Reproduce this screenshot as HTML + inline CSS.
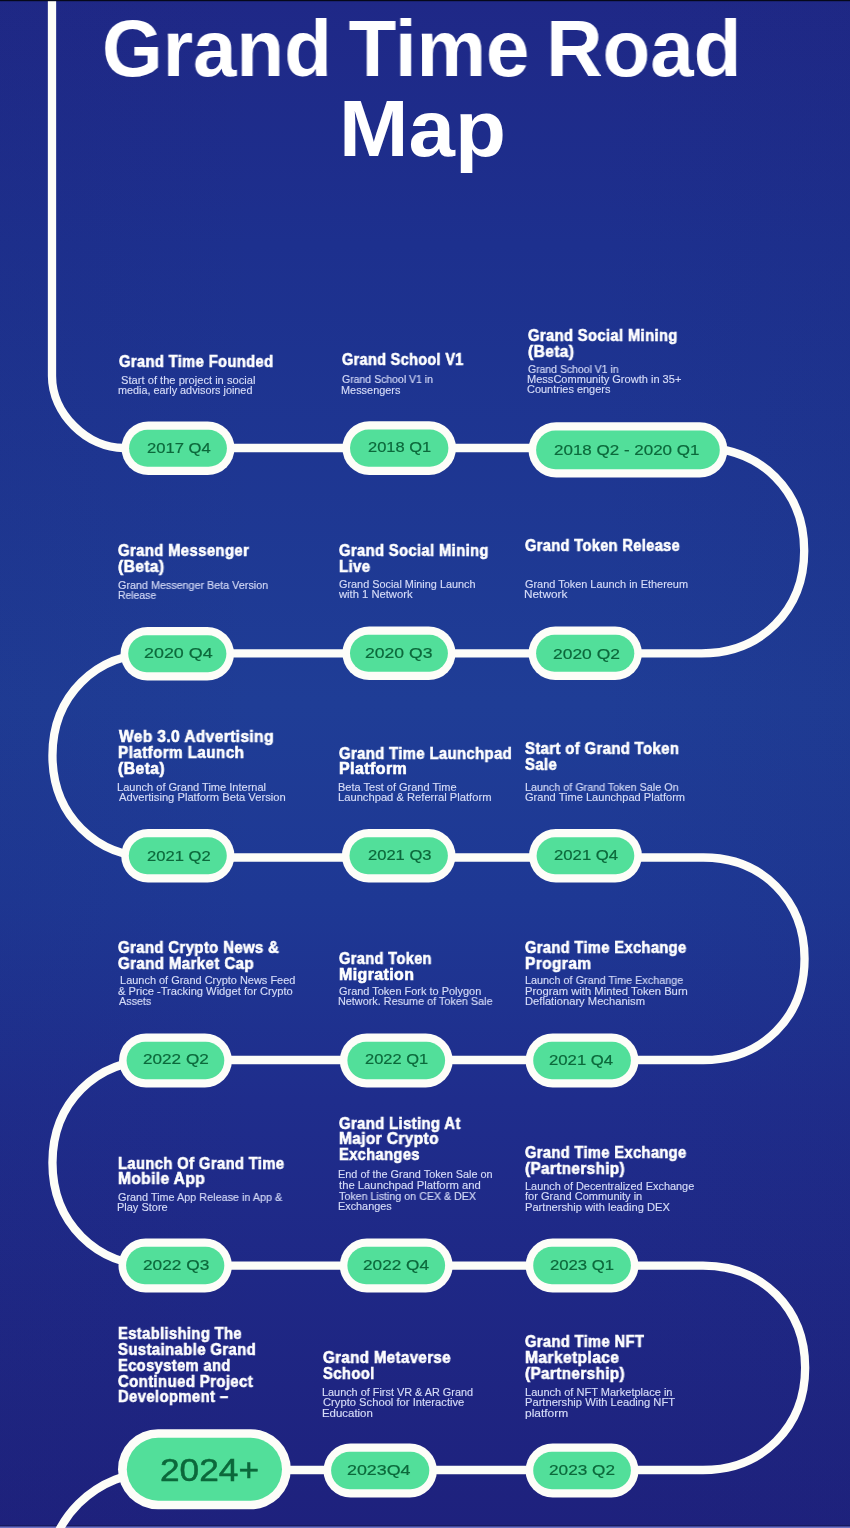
<!DOCTYPE html>
<html><head><meta charset="utf-8">
<style>
html,body{margin:0;padding:0;}
.t,.d,.p,.title{will-change:transform;}
body{width:850px;height:1528px;overflow:hidden;position:relative;font-family:"Liberation Sans",sans-serif;background:#20308f;}
#bg{position:absolute;left:0;top:0;width:850px;height:1528px;}
.t{position:absolute;white-space:pre;transform-origin:0 0;color:#fff;font-weight:bold;-webkit-text-stroke:0.6px #fff;letter-spacing:0.4px;font-size:15.8px;line-height:15.8px;}
.d{position:absolute;white-space:pre;transform-origin:0 0;color:#d6dcf8;-webkit-text-stroke:0.15px #d6dcf8;font-size:10.85px;line-height:10.6px;}
.p{position:absolute;white-space:pre;color:#0c683b;transform-origin:0 0;}
.title{position:absolute;white-space:pre;color:#fff;font-weight:bold;transform-origin:0 0;}
</style></head><body>

<svg id="bg" width="850" height="1528" viewBox="0 0 850 1528">
<defs><linearGradient id="g" x1="0" y1="0" x2="0" y2="1"><stop offset="0" stop-color="rgb(31,40,135)"/><stop offset="0.16" stop-color="rgb(29,48,142)"/><stop offset="0.46" stop-color="rgb(31,61,150)"/><stop offset="0.59" stop-color="rgb(30,56,148)"/><stop offset="0.72" stop-color="rgb(31,45,140)"/><stop offset="1" stop-color="rgb(30,33,125)"/></linearGradient><linearGradient id="re" x1="0" y1="0" x2="1" y2="0"><stop offset="0" stop-color="#1c2470" stop-opacity="0.1"/><stop offset="0.3" stop-color="#1c2470" stop-opacity="0"/><stop offset="0.7" stop-color="#1c2470" stop-opacity="0"/><stop offset="1" stop-color="#1c2470" stop-opacity="0.1"/></linearGradient></defs>
<rect width="850" height="1528" fill="url(#g)"/><rect width="850" height="1528" fill="url(#re)"/>
<rect y="1525" width="850" height="1.5" fill="#161a60"/><rect y="1526.5" width="850" height="1.5" fill="#6e73c3"/>
<path d="M52 -5 L52 376 C52.00 413.44 86.56 448.00 124.00 448.00 L701.50 448.00 C761.07 448.00 804.20 491.13 804.20 550.70 C804.20 610.27 761.07 653.40 701.50 653.40 L154.50 653.40 C95.31 653.40 52.45 696.26 52.45 755.45 C52.45 814.64 95.31 857.50 154.50 857.50 L703.30 857.50 C762.02 857.50 804.55 900.02 804.55 958.75 C804.55 1017.48 762.02 1060.00 703.30 1060.00 L155.30 1060.00 C95.65 1060.00 52.45 1103.20 52.45 1162.85 C52.45 1222.50 95.65 1265.70 155.30 1265.70 L703.00 1265.70 C762.25 1265.70 805.15 1308.60 805.15 1367.85 C805.15 1427.10 762.25 1470.00 703.00 1470.00 L200 1470 M155 1472 A108 108 0 0 0 47 1580" fill="none" stroke="#fdfdf8" stroke-width="8.3"/>
<rect x="121.5" y="421.5" width="113.0" height="53.5" rx="26.8" fill="#fdfdf8"/>
<rect x="129.1" y="429.8" width="97.8" height="36.9" rx="18.4" fill="#52df9a"/>
<rect x="342.4" y="421.2" width="113.6" height="53.8" rx="26.9" fill="#fdfdf8"/>
<rect x="350.0" y="429.5" width="98.4" height="37.2" rx="18.6" fill="#52df9a"/>
<rect x="528.5" y="422.2" width="198.9" height="55.4" rx="27.7" fill="#fdfdf8"/>
<rect x="536.1" y="430.5" width="183.7" height="38.8" rx="19.4" fill="#52df9a"/>
<rect x="120.6" y="627.0" width="113.4" height="53.5" rx="26.8" fill="#fdfdf8"/>
<rect x="128.2" y="635.3" width="98.2" height="36.9" rx="18.4" fill="#52df9a"/>
<rect x="342.4" y="626.5" width="113.1" height="53.5" rx="26.8" fill="#fdfdf8"/>
<rect x="350.0" y="634.8" width="97.9" height="36.9" rx="18.4" fill="#52df9a"/>
<rect x="528.5" y="626.5" width="113.4" height="53.5" rx="26.8" fill="#fdfdf8"/>
<rect x="536.1" y="634.8" width="98.2" height="36.9" rx="18.4" fill="#52df9a"/>
<rect x="121.2" y="829.0" width="113.2" height="53.5" rx="26.8" fill="#fdfdf8"/>
<rect x="128.8" y="837.3" width="98.0" height="36.9" rx="18.4" fill="#52df9a"/>
<rect x="341.9" y="829.0" width="113.6" height="53.5" rx="26.8" fill="#fdfdf8"/>
<rect x="349.5" y="837.3" width="98.4" height="36.9" rx="18.4" fill="#52df9a"/>
<rect x="529.0" y="829.0" width="112.9" height="53.5" rx="26.8" fill="#fdfdf8"/>
<rect x="536.6" y="837.3" width="97.7" height="36.9" rx="18.4" fill="#52df9a"/>
<rect x="119.0" y="1033.5" width="112.9" height="54.0" rx="27.0" fill="#fdfdf8"/>
<rect x="126.6" y="1041.8" width="97.7" height="37.4" rx="18.7" fill="#52df9a"/>
<rect x="339.8" y="1033.5" width="112.9" height="54.0" rx="27.0" fill="#fdfdf8"/>
<rect x="347.4" y="1041.8" width="97.7" height="37.4" rx="18.7" fill="#52df9a"/>
<rect x="525.6" y="1033.5" width="112.9" height="54.0" rx="27.0" fill="#fdfdf8"/>
<rect x="533.2" y="1041.8" width="97.7" height="37.4" rx="18.7" fill="#52df9a"/>
<rect x="118.5" y="1238.5" width="113.4" height="54.0" rx="27.0" fill="#fdfdf8"/>
<rect x="126.1" y="1246.8" width="98.2" height="37.4" rx="18.7" fill="#52df9a"/>
<rect x="339.8" y="1238.5" width="112.9" height="54.0" rx="27.0" fill="#fdfdf8"/>
<rect x="347.4" y="1246.8" width="97.7" height="37.4" rx="18.7" fill="#52df9a"/>
<rect x="525.6" y="1238.5" width="112.9" height="54.0" rx="27.0" fill="#fdfdf8"/>
<rect x="533.2" y="1246.8" width="97.7" height="37.4" rx="18.7" fill="#52df9a"/>
<rect x="118.0" y="1429.2" width="172.8" height="80.1" rx="40.0" fill="#fdfdf8"/>
<rect x="126.8" y="1437.8" width="155.2" height="62.9" rx="31.4" fill="#52df9a"/>
<rect x="323.5" y="1443.5" width="113.4" height="54.0" rx="27.0" fill="#fdfdf8"/>
<rect x="331.1" y="1451.8" width="98.2" height="37.4" rx="18.7" fill="#52df9a"/>
<rect x="525.6" y="1443.5" width="112.9" height="54.0" rx="27.0" fill="#fdfdf8"/>
<rect x="533.2" y="1451.8" width="97.7" height="37.4" rx="18.7" fill="#52df9a"/>
<rect width="850" height="1.2" fill="#05081a"/>
</svg>
<div class="title" style="left:101.83px;top:8.78px;font-size:80px;line-height:80px;transform:scaleX(0.9756);word-spacing:-5px">Grand Time Road</div>
<div class="title" style="left:338.52px;top:88.78px;font-size:80px;line-height:80px;transform:scaleX(1.0429);word-spacing:-5px">Map</div>
<div class="t" style="left:118.77px;top:354.13px;transform:scaleX(0.9315)">Grand Time Founded</div>
<div class="d" style="left:117.91px;top:374.94px;transform:scaleX(1.0266)"> Start of the project in social</div>
<div class="d" style="left:118.25px;top:384.54px;transform:scaleX(1.0000)">media, early advisors joined</div>
<div class="t" style="left:341.77px;top:351.83px;transform:scaleX(0.9132)">Grand School V1</div>
<div class="d" style="left:341.52px;top:374.44px;transform:scaleX(0.9677)">Grand School V1 in</div>
<div class="d" style="left:340.99px;top:384.54px;transform:scaleX(1.0061)">Messengers</div>
<div class="t" style="left:527.77px;top:327.83px;transform:scaleX(0.9340)">Grand Social Mining</div>
<div class="t" style="left:527.51px;top:343.63px;transform:scaleX(0.9836)">(Beta)</div>
<div class="d" style="left:527.52px;top:363.94px;transform:scaleX(0.9634)">Grand School V1 in</div>
<div class="d" style="left:526.98px;top:374.44px;transform:scaleX(1.0183)">MessCommunity Growth in 35+</div>
<div class="d" style="left:527.49px;top:384.34px;transform:scaleX(1.0104)">Countries engers</div>
<div class="t" style="left:118.26px;top:543.03px;transform:scaleX(0.9405)">Grand Messenger</div>
<div class="t" style="left:118.01px;top:559.03px;transform:scaleX(0.9858)">(Beta)</div>
<div class="d" style="left:118.00px;top:579.74px;transform:scaleX(0.9923)">Grand Messenger Beta Version</div>
<div class="d" style="left:117.54px;top:589.94px;transform:scaleX(0.9595)">Release</div>
<div class="t" style="left:339.17px;top:543.03px;transform:scaleX(0.9346)">Grand Social Mining</div>
<div class="t" style="left:338.69px;top:559.03px;transform:scaleX(0.9480)">Live</div>
<div class="d" style="left:338.90px;top:579.34px;transform:scaleX(1.0022)">Grand Social Mining Launch</div>
<div class="d" style="left:339.40px;top:589.34px;transform:scaleX(1.0338)">with 1 Network</div>
<div class="t" style="left:524.77px;top:537.83px;transform:scaleX(0.9234)">Grand Token Release</div>
<div class="d" style="left:524.50px;top:579.34px;transform:scaleX(1.0065)">Grand Token Launch in Ethereum</div>
<div class="d" style="left:523.91px;top:589.34px;transform:scaleX(1.0890)">Network</div>
<div class="t" style="left:118.75px;top:728.73px;transform:scaleX(0.9818)">Web 3.0 Advertising</div>
<div class="t" style="left:117.77px;top:744.93px;transform:scaleX(0.9670)">Platform Launch</div>
<div class="t" style="left:118.00px;top:760.73px;transform:scaleX(0.9967)">(Beta)</div>
<div class="d" style="left:117.48px;top:781.54px;transform:scaleX(1.0176)">Launch of Grand Time Internal</div>
<div class="d" style="left:118.50px;top:791.64px;transform:scaleX(1.0317)">Advertising Platform Beta Version</div>
<div class="t" style="left:339.16px;top:745.53px;transform:scaleX(0.9401)">Grand Time Launchpad</div>
<div class="t" style="left:338.64px;top:761.23px;transform:scaleX(1.0137)">Platform</div>
<div class="d" style="left:338.38px;top:781.54px;transform:scaleX(1.0152)">Beta Test of Grand Time</div>
<div class="d" style="left:338.37px;top:791.64px;transform:scaleX(1.0309)">Launchpad &amp; Referral Platform</div>
<div class="t" style="left:525.36px;top:740.73px;transform:scaleX(0.9409)">Start of Grand Token</div>
<div class="t" style="left:525.36px;top:756.53px;transform:scaleX(0.9414)">Sale</div>
<div class="d" style="left:524.61px;top:781.54px;transform:scaleX(0.9922)">Launch of Grand Token Sale On</div>
<div class="d" style="left:525.09px;top:791.64px;transform:scaleX(1.0212)">Grand Time Launchpad Platform</div>
<div class="t" style="left:118.26px;top:939.93px;transform:scaleX(0.9441)">Grand Crypto News &amp;</div>
<div class="t" style="left:118.26px;top:955.53px;transform:scaleX(0.9541)">Grand Market Cap</div>
<div class="d" style="left:116.96px;top:975.04px;transform:scaleX(1.0099)"> Launch of Grand Crypto News Feed</div>
<div class="d" style="left:117.99px;top:985.64px;transform:scaleX(1.0275)">&amp; Price -Tracking Widget for Crypto</div>
<div class="d" style="left:118.50px;top:996.24px;transform:scaleX(0.9922)">Assets</div>
<div class="t" style="left:339.17px;top:950.73px;transform:scaleX(0.9229)">Grand Token</div>
<div class="t" style="left:338.64px;top:966.53px;transform:scaleX(1.0089)">Migration</div>
<div class="d" style="left:338.89px;top:985.64px;transform:scaleX(1.0104)">Grand Token Fork to Polygon</div>
<div class="d" style="left:338.40px;top:996.24px;transform:scaleX(0.9984)">Network. Resume of Token Sale</div>
<div class="t" style="left:525.37px;top:939.93px;transform:scaleX(0.9276)">Grand Time Exchange</div>
<div class="t" style="left:524.86px;top:955.53px;transform:scaleX(0.9803)">Program</div>
<div class="d" style="left:524.60px;top:975.04px;transform:scaleX(0.9978)">Launch of Grand Time Exchange</div>
<div class="d" style="left:524.56px;top:985.64px;transform:scaleX(1.0367)">Program with Minted Token Burn</div>
<div class="d" style="left:524.57px;top:996.24px;transform:scaleX(1.0318)">Deflationary Mechanism</div>
<div class="t" style="left:117.80px;top:1155.93px;transform:scaleX(0.9354)">Launch Of Grand Time</div>
<div class="t" style="left:117.76px;top:1171.23px;transform:scaleX(0.9839)">Mobile App</div>
<div class="d" style="left:118.00px;top:1191.54px;transform:scaleX(0.9982)">Grand Time App Release in App &amp;</div>
<div class="d" style="left:117.49px;top:1202.14px;transform:scaleX(1.0124)">Play Store</div>
<div class="t" style="left:339.17px;top:1115.93px;transform:scaleX(0.9395)">Grand Listing At</div>
<div class="t" style="left:338.67px;top:1131.43px;transform:scaleX(0.9767)">Major Crypto</div>
<div class="t" style="left:338.70px;top:1147.03px;transform:scaleX(0.9298)">Exchanges</div>
<div class="d" style="left:338.40px;top:1169.14px;transform:scaleX(1.0033)">End of the Grand Token Sale on</div>
<div class="d" style="left:339.14px;top:1179.74px;transform:scaleX(1.0403)">the Launchpad Platform and</div>
<div class="d" style="left:339.15px;top:1190.54px;transform:scaleX(0.9838)">Token Listing on CEX &amp; DEX</div>
<div class="d" style="left:338.40px;top:1201.34px;transform:scaleX(0.9990)">Exchanges</div>
<div class="t" style="left:525.37px;top:1145.33px;transform:scaleX(0.9276)">Grand Time Exchange</div>
<div class="t" style="left:525.12px;top:1160.83px;transform:scaleX(0.9663)">(Partnership)</div>
<div class="d" style="left:524.59px;top:1180.94px;transform:scaleX(1.0063)">Launch of Decentralized Exchange</div>
<div class="d" style="left:525.35px;top:1191.44px;transform:scaleX(1.0188)">for Grand Community in</div>
<div class="d" style="left:524.57px;top:1201.64px;transform:scaleX(1.0268)">Partnership with leading DEX</div>
<div class="t" style="left:117.80px;top:1326.03px;transform:scaleX(0.9338)">Establishing The</div>
<div class="t" style="left:118.26px;top:1341.83px;transform:scaleX(0.9441)">Sustainable Grand</div>
<div class="t" style="left:117.80px;top:1357.83px;transform:scaleX(0.9308)">Ecosystem and</div>
<div class="t" style="left:118.26px;top:1373.63px;transform:scaleX(0.9455)">Continued Project</div>
<div class="t" style="left:117.80px;top:1389.03px;transform:scaleX(0.9385)">Development –</div>
<div class="t" style="left:322.96px;top:1350.03px;transform:scaleX(0.9538)">Grand Metaverse</div>
<div class="t" style="left:322.97px;top:1365.53px;transform:scaleX(0.9383)">School</div>
<div class="d" style="left:322.20px;top:1386.84px;transform:scaleX(1.0027)">Launch of First VR &amp; AR Grand</div>
<div class="d" style="left:322.68px;top:1397.34px;transform:scaleX(1.0331)">Crypto School for Interactive</div>
<div class="d" style="left:322.15px;top:1407.54px;transform:scaleX(1.0538)">Education</div>
<div class="t" style="left:525.37px;top:1334.23px;transform:scaleX(0.9299)">Grand Time NFT</div>
<div class="t" style="left:524.86px;top:1349.93px;transform:scaleX(0.9857)">Marketplace</div>
<div class="t" style="left:525.12px;top:1365.53px;transform:scaleX(0.9663)">(Partnership)</div>
<div class="d" style="left:524.58px;top:1386.74px;transform:scaleX(1.0167)">Launch of NFT Marketplace in</div>
<div class="d" style="left:524.57px;top:1397.34px;transform:scaleX(1.0287)">Partnership With Leading NFT</div>
<div class="d" style="left:524.77px;top:1407.74px;transform:scaleX(1.1020)">platform</div>
<div class="p" style="left:147.06px;top:441.07px;font-size:14.8px;line-height:14.8px;transform:scaleX(1.1229);-webkit-text-stroke:0.2px #0c683b">2017 Q4</div>
<div class="p" style="left:367.86px;top:439.97px;font-size:14.8px;line-height:14.8px;transform:scaleX(1.1135);-webkit-text-stroke:0.2px #0c683b">2018 Q1</div>
<div class="p" style="left:554.14px;top:443.47px;font-size:14.8px;line-height:14.8px;transform:scaleX(1.1481);-webkit-text-stroke:0.2px #0c683b">2018 Q2 - 2020 Q1</div>
<div class="p" style="left:144.09px;top:646.47px;font-size:14.8px;line-height:14.8px;transform:scaleX(1.2090);-webkit-text-stroke:0.2px #0c683b">2020 Q4</div>
<div class="p" style="left:365.31px;top:646.17px;font-size:14.8px;line-height:14.8px;transform:scaleX(1.1874);-webkit-text-stroke:0.2px #0c683b">2020 Q3</div>
<div class="p" style="left:552.82px;top:647.27px;font-size:14.8px;line-height:14.8px;transform:scaleX(1.1784);-webkit-text-stroke:0.2px #0c683b">2020 Q2</div>
<div class="p" style="left:147.06px;top:848.57px;font-size:14.8px;line-height:14.8px;transform:scaleX(1.1225);-webkit-text-stroke:0.2px #0c683b">2021 Q2</div>
<div class="p" style="left:367.86px;top:848.47px;font-size:14.8px;line-height:14.8px;transform:scaleX(1.1189);-webkit-text-stroke:0.2px #0c683b">2021 Q3</div>
<div class="p" style="left:553.65px;top:848.47px;font-size:14.8px;line-height:14.8px;transform:scaleX(1.1300);-webkit-text-stroke:0.2px #0c683b">2021 Q4</div>
<div class="p" style="left:142.83px;top:1051.97px;font-size:14.8px;line-height:14.8px;transform:scaleX(1.1586);-webkit-text-stroke:0.2px #0c683b">2022 Q2</div>
<div class="p" style="left:365.36px;top:1051.97px;font-size:14.8px;line-height:14.8px;transform:scaleX(1.1135);-webkit-text-stroke:0.2px #0c683b">2022 Q1</div>
<div class="p" style="left:548.65px;top:1053.27px;font-size:14.8px;line-height:14.8px;transform:scaleX(1.1300);-webkit-text-stroke:0.2px #0c683b">2021 Q4</div>
<div class="p" style="left:142.82px;top:1257.77px;font-size:14.8px;line-height:14.8px;transform:scaleX(1.1676);-webkit-text-stroke:0.2px #0c683b">2022 Q3</div>
<div class="p" style="left:362.83px;top:1257.77px;font-size:14.8px;line-height:14.8px;transform:scaleX(1.1623);-webkit-text-stroke:0.2px #0c683b">2022 Q4</div>
<div class="p" style="left:549.55px;top:1257.77px;font-size:14.8px;line-height:14.8px;transform:scaleX(1.1279);-webkit-text-stroke:0.2px #0c683b">2023 Q1</div>
<div class="p" style="left:160.32px;top:1453.71px;font-size:32px;line-height:32px;transform:scaleX(1.1014);-webkit-text-stroke:0.5px #0c683b">2024+</div>
<div class="p" style="left:346.70px;top:1462.77px;font-size:14.8px;line-height:14.8px;transform:scaleX(1.2058);-webkit-text-stroke:0.2px #0c683b">2023Q4</div>
<div class="p" style="left:548.63px;top:1462.77px;font-size:14.8px;line-height:14.8px;transform:scaleX(1.1622);-webkit-text-stroke:0.2px #0c683b">2023 Q2</div>
</body></html>
